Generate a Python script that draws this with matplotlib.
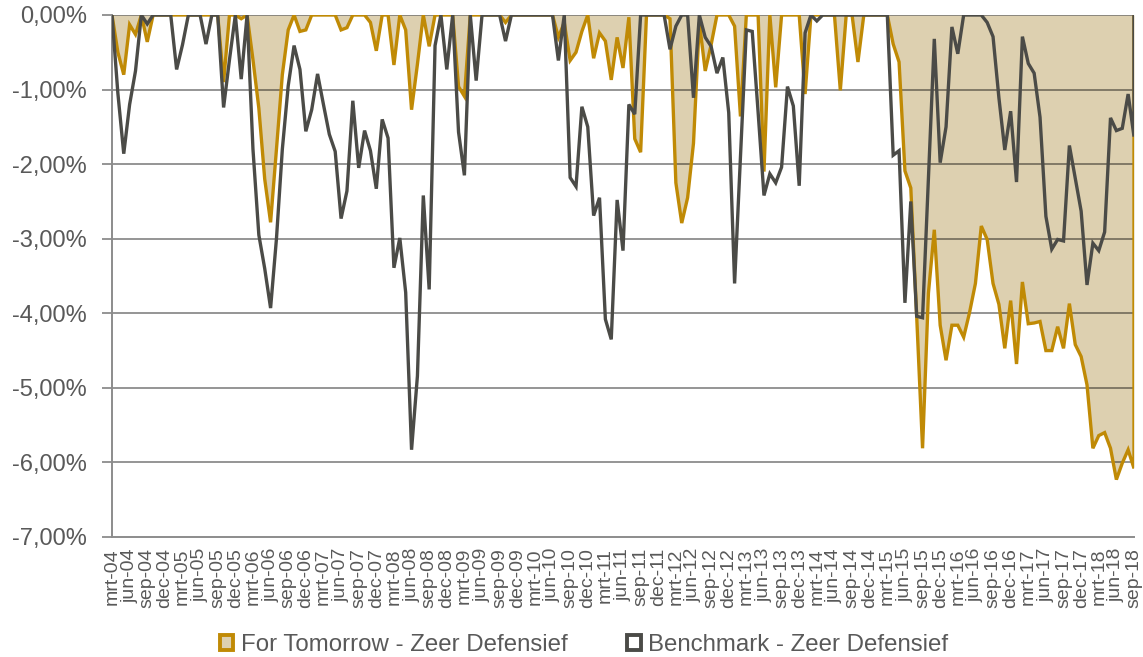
import matplotlib
matplotlib.use("Agg")
import matplotlib.pyplot as plt
from matplotlib.patches import Patch
from matplotlib.ticker import FuncFormatter, MultipleLocator
import numpy as np

plt.rcParams['font.family'] = ['Liberation Sans', 'DejaVu Sans']

# Monthly drawdowns (%), mrt-04 .. sep-18
for_tomorrow = [
    0, -0.5, -0.8, -0.13, -0.26, 0, -0.36, 0,
    0, 0, 0, 0, 0, 0, 0, 0, 0, 0, 0,
    -0.9, 0, 0, -0.05, 0, -0.6, -1.25, -2.2, -2.78, -1.8, -0.8, -0.2, 0,
    -0.22, -0.2, 0, 0, 0, 0, 0, -0.2, -0.17, 0, 0, 0, -0.1, -0.48, 0, 0,
    -0.67, 0, -0.2, -1.27, -0.66, 0, -0.42, 0, 0, 0, 0, -0.96, -1.09,
    0, 0, 0, 0, 0, 0, -0.1, 0, 0, 0, 0, 0, 0, 0, 0,
    -0.3, -0.1, -0.61, -0.5, -0.22, 0, -0.58, -0.24, -0.35, -0.87, -0.3,
    -0.71, -0.03, -1.66, -1.84, 0, 0, 0, 0, -0.05, -2.25, -2.79, -2.45,
    -1.72, -0.1, -0.75, -0.4, 0, 0, 0, -0.15, -1.36, 0, 0, 0, -2.1, 0,
    -0.97, 0, 0, 0, 0, -1.06, 0, 0, 0, 0, 0, -1.01, 0, 0, -0.63,
    0, 0, 0, 0, 0, -0.39, -0.63, -2.09, -2.32, -4.04, -5.81, -3.73, -2.88,
    -4.16, -4.63, -4.16, -4.16, -4.32, -3.99, -3.6, -2.83, -3.01, -3.6,
    -3.88, -4.47, -3.83, -4.68, -3.58, -4.14, -4.13, -4.11, -4.5, -4.5,
    -4.18, -4.47, -3.87, -4.42, -4.58, -4.96, -5.81, -5.64, -5.6, -5.81,
    -6.23, -6.01, -5.83, -6.08,
]

benchmark = [
    0, -1.05, -1.86, -1.2, -0.75, 0, -0.12, 0, 0, 0, 0, -0.73, -0.4, 0,
    0, 0, -0.39, 0, 0, -1.24, -0.6, 0, -0.86, 0, -1.8, -2.95, -3.4, -3.93,
    -3.0, -1.8, -0.95, -0.41, -0.73, -1.56, -1.27, -0.79, -1.2, -1.6,
    -1.83, -2.73, -2.36, -1.15, -2.05, -1.55, -1.82, -2.33, -1.4, -1.65,
    -3.39, -2.99, -3.72, -5.83, -4.84, -2.42, -3.68, -0.41, 0, -0.73, 0,
    -1.57, -2.15, 0, -0.88, 0, 0, 0, 0, -0.35, 0, 0, 0, 0, 0, 0, 0, 0,
    -0.61, 0, -2.18, -2.3, -1.23, -1.5, -2.69, -2.45, -4.08, -4.35, -2.48,
    -3.16, -1.2, -1.33, 0, 0, 0, 0, 0, -0.46, -0.15, 0, 0, -1.11, 0,
    -0.3, -0.42, -0.78, -0.57, -1.31, -3.6, -1.9, -0.2, -0.22, -1.3,
    -2.42, -2.13, -2.25, -2.04, -0.96, -1.22, -2.29, -0.24, 0, -0.08,
    0, 0, 0, 0, 0, 0, 0, 0, 0, 0, 0, 0,
    -1.88, -1.82, -3.86, -2.5, -4.04, -4.06, -2.2, -0.32, -1.98, -1.5,
    -0.16, -0.52, 0, 0, 0, 0, -0.1, -0.29, -1.11, -1.81, -1.29, -2.24,
    -0.29, -0.65, -0.78, -1.37, -2.7, -3.14, -3.01, -3.03, -1.75, -2.19,
    -2.63, -3.62, -3.06, -3.16, -2.91, -1.38, -1.55, -1.52, -1.06, -1.63,
]

month_names = ['mrt', 'jun', 'sep', 'dec']
years = list(range(4, 19))
tick_labels = [f"{m}-{y:02d}" for y in years for m in month_names][:59]

series_names = ['For Tomorrow - Zeer Defensief', 'Benchmark - Zeer Defensief']

GOLD = '#C08A05'
FILL = '#DDD0B0'
DARK = '#4B4B47'
TXT = '#595959'

ft = np.array(for_tomorrow)
bm = np.array(benchmark)
x = np.arange(len(ft))

fig = plt.figure(figsize=(11.43, 6.57), dpi=100)
ax = fig.add_axes([112/1143, 1-537/657, (1134-112)/1143, (537-15)/657])

ax.fill_between(x, ft, 0, color=FILL, lw=0, zorder=1)
ax.set_ylim(-7, 0)
ax.set_xlim(x[0], x[-1])
ax.yaxis.set_major_locator(MultipleLocator(1))
for v in np.arange(-6, 0.5, 1):
    ax.axhline(v, color='black', alpha=0.42, lw=1.4, zorder=2)

xe = np.append(x, x[-1])
ax.plot(xe, np.append(ft, 0), color=GOLD, lw=2.4, zorder=3, solid_joinstyle='miter')
ax.plot(xe, np.append(bm, 0), color=DARK, lw=2.4, zorder=4, solid_joinstyle='miter')

def fmt(v, pos):
    s = f"{v:.2f}%".replace('.', ',')
    return '0,00%' if s == '-0,00%' else s
ax.yaxis.set_major_formatter(FuncFormatter(fmt))

ax.set_xticks(x[::3])
ax.set_xticklabels(tick_labels, rotation=90)
ax.tick_params(axis='x', length=0, pad=8, labelsize=14, labelcolor=TXT)
ax.tick_params(axis='y', length=7, width=1.3, color='#8C8C8C', pad=11, labelsize=17, labelcolor=TXT)

for s in ['top', 'right']:
    ax.spines[s].set_visible(False)
for s in ['left', 'bottom']:
    ax.spines[s].set_color('#8C8C8C')
    ax.spines[s].set_linewidth(1.4)

handles = [Patch(facecolor=FILL, edgecolor=GOLD, lw=2.8),
           Patch(facecolor='white', edgecolor=DARK, lw=2.8)]
fig.legend(handles, series_names, loc='center', bbox_to_anchor=(584/1143, 1-645/657),
           ncol=2, frameon=False, fontsize=17.3, handlelength=0.55, handleheight=0.55,
           handletextpad=0.3, columnspacing=2.5, labelcolor=TXT, borderpad=0.1)

fig.savefig('out.png', dpi=100)
